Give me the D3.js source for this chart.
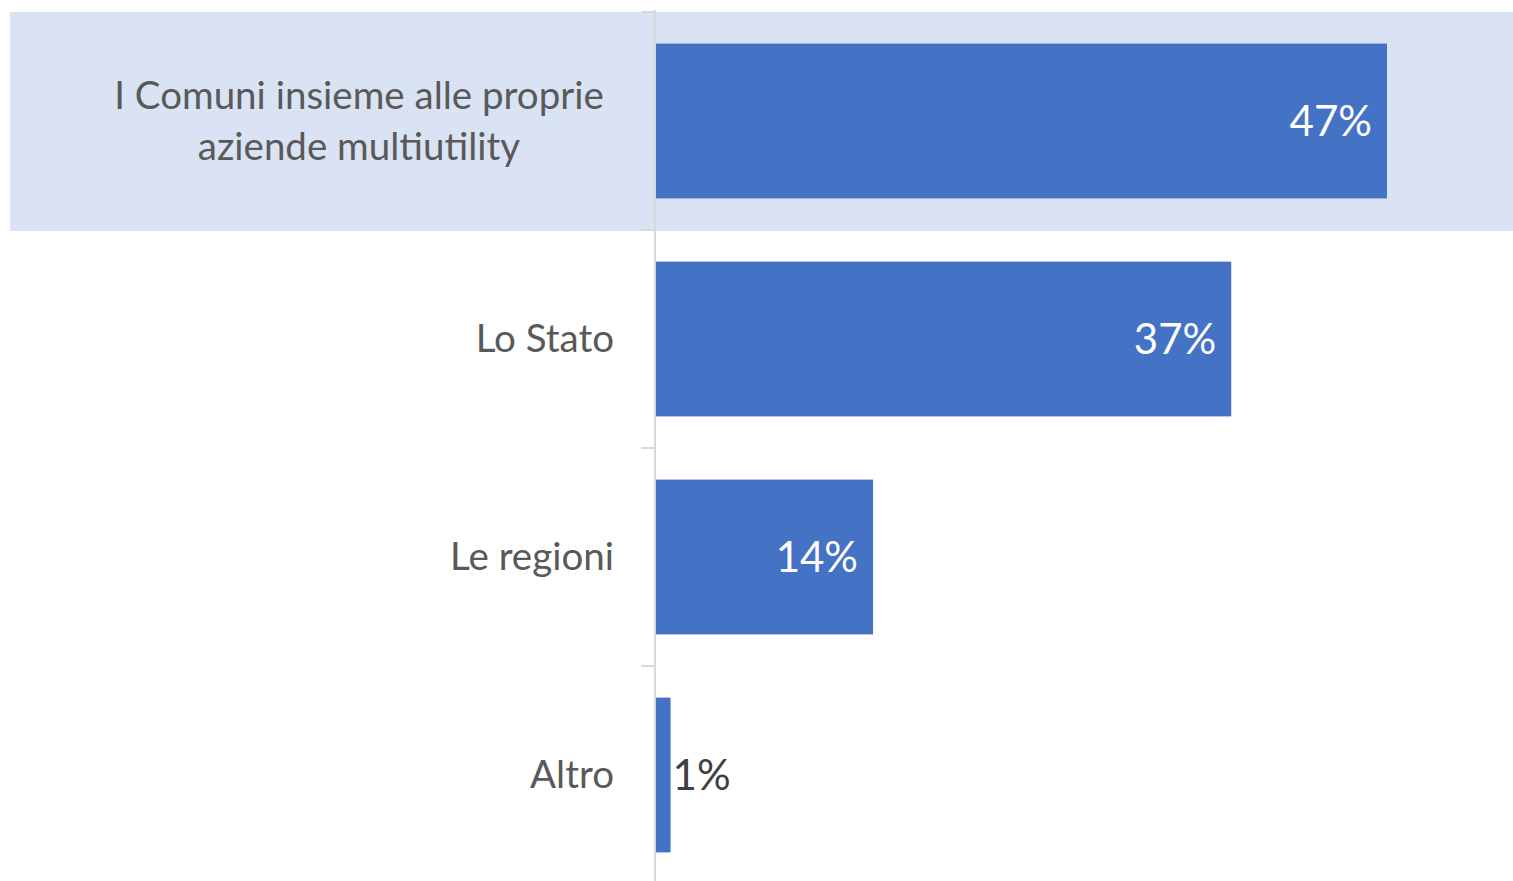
<!DOCTYPE html>
<html><head><meta charset="utf-8">
<script src="https://cdn.jsdelivr.net/npm/d3@7"></script>
<style>body{margin:0;background:#fff;} svg{display:block;}</style>
</head><body>
<svg id="c" width="1513" height="881"></svg>
<script>
const categories = [["I Comuni insieme alle proprie","aziende multiutility"],["Lo Stato"],["Le regioni"],["Altro"]];
const values = [47, 37, 14, 1];
const valueLabels = ["47%","37%","14%","1%"];
const highlighted = 0;

const svg = d3.select("#c");
const x0 = 655;
const x = d3.scaleLinear().domain([0, 50]).range([x0, x0 + 778.7]);
const y = d3.scaleBand().domain(d3.range(categories.length)).range([12, 884]).paddingInner(0.29).paddingOuter(0.145);
const step = y.step();
const bandTop = i => y(i) - y.paddingOuter()*step;

// highlight band
svg.append("rect").attr("x",10).attr("y",bandTop(highlighted)).attr("width",1503).attr("height",step+1).attr("fill","#dae3f3");

// axis line and ticks
svg.append("line").attr("x1",x0).attr("x2",x0).attr("y1",10).attr("y2",881).attr("stroke","#d9d9d9").attr("stroke-width",2);
d3.range(categories.length).forEach(i=>{
  const ty = bandTop(i);
  svg.append("line").attr("x1",x0-14).attr("x2",x0).attr("y1",ty).attr("y2",ty).attr("stroke","#d9d9d9").attr("stroke-width",2);
});

// bars
svg.selectAll(".bar").data(values).join("rect")
  .attr("x", x(0)+1).attr("y",(d,i)=>y(i)).attr("width",d=>x(d)-x(0)-1).attr("height",y.bandwidth()).attr("fill","#4472c4");

// category labels
const font = "Lato, 'Open Sans', sans-serif";
categories.forEach((lines,i)=>{
  const cy = y(i)+y.bandwidth()/2;
  const multi = lines.length>1;
  const t = svg.append("text").attr("font-family",font).attr("font-size",38.5).attr("fill","#595959")
    .attr("text-anchor", multi? "middle":"end");
  const lh = 51;
  lines.forEach((l,j)=>{
    t.append("tspan").attr("x", multi? 359 : 614).attr("y", cy + (j-(lines.length-1)/2)*lh).attr("dy","0.35em").text(l);
  });
});

// value labels
values.forEach((v,i)=>{
  const cy = y(i)+y.bandwidth()/2;
  const inside = v > 5;
  svg.append("text").attr("font-family",font).attr("font-size",42)
    .attr("fill", inside? "#ffffff":"#404040")
    .attr("text-anchor", inside? "end":"start")
    .attr("x", inside? x(v)-15 : x(v)+2)
    .attr("y", cy).attr("dy","0.35em").text(valueLabels[i]);
});
</script>
</body></html>
